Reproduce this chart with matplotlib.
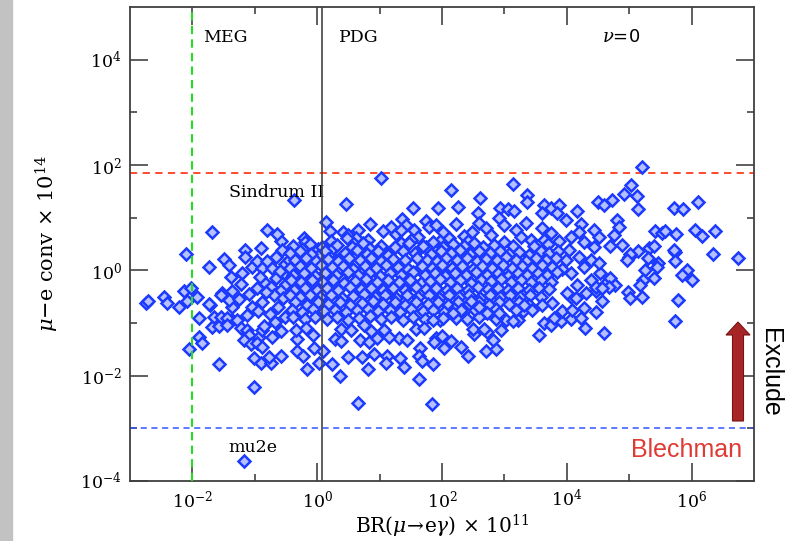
import numpy as np
import matplotlib
matplotlib.use("Agg")
import matplotlib.pyplot as plt
from matplotlib.patches import FancyArrow, Rectangle
from matplotlib.ticker import NullFormatter

plt.rcParams['font.family'] = 'DejaVu Serif'
plt.rcParams['mathtext.fontset'] = 'dejavuserif'

# scan points, as (log10 BR x 1e11, log10 conv x 1e14)
far_left = [(-2.74, -0.62), (-2.71, -0.58), (-2.45, -0.50), (-2.40, -0.62), (-2.21, -0.69),
            (-2.13, -0.40), (-2.09, -0.58), (-2.02, -0.34), (-1.92, -0.50), (-1.89, -0.91),
            (-1.72, -0.66), (-1.69, -1.07), (-1.57, -1.06), (-2.05, -1.50), (-2.10, 0.31),
            (-1.68, 0.73), (-1.89, -1.26), (-1.84, -1.38), (-1.65, -0.88), (-1.57, -1.78),
            (-1.74, 0.06)]

left_mid = [(-1.50, 0.22), (-1.41, 0.10), (-1.20, -0.06), (-1.38, -0.12), (-1.04, 0.07),
            (-0.88, 0.04), (-0.72, 0.04), (-0.53, -0.06), (-1.22, -0.26), (-1.52, -0.43),
            (-1.36, -0.40), (-1.73, -0.64), (-1.54, -0.47), (-1.36, -0.69), (-1.04, -0.69),
            (-1.41, -0.56), (-1.36, -0.94), (-1.54, -0.88), (-1.44, -0.91), (-1.44, -1.04),
            (-1.28, -0.94), (-1.22, -1.10), (-1.12, -1.13), (-1.09, -1.23), (-1.17, -1.32),
            (-1.06, -1.40), (-0.93, -1.26), (-0.96, -1.38), (-0.88, -1.45), (-0.88, -1.13),
            (-1.01, -1.66), (-0.90, -1.75), (-0.74, -1.76), (-0.77, -1.64), (-0.58, -1.62),
            (-0.72, -1.26), (-0.58, -1.16), (-1.01, -2.21), (-1.17, -3.62), (-0.96, 0.17),
            (-0.58, 0.55), (-0.80, 0.77), (-0.64, 0.69), (-0.90, 0.43), (-0.56, 0.38),
            (-1.15, 0.38), (-1.15, 0.25), (-0.85, -0.22), (-0.74, -0.31), (-0.66, -0.14),
            (-0.58, -0.37), (-0.50, -0.26), (-0.70, -0.47), (-0.55, -0.52), (-0.82, -0.42),
            (-0.92, -0.12), (-0.97, -0.33), (-1.10, -0.45), (-0.88, -0.60), (-0.63, -0.70),
            (-0.75, -0.83), (-0.52, -0.88), (-0.95, -0.78), (-1.12, -0.85), (-0.68, -0.98),
            (-0.86, -1.05), (-1.25, -0.55), (-0.80, 0.18), (-0.66, 0.26), (-0.52, 0.12),
            (-0.60, -0.02), (-0.45, 0.20), (-0.42, 0.01)]

high_pts = [(-0.37, 1.34), (0.46, 1.26), (1.02, 1.75), (5.20, 1.97), (1.54, 1.18), (1.94, 1.18),
            (2.14, 1.53), (3.13, 1.64), (2.61, 1.37), (3.36, 1.43), (3.36, 1.30), (2.26, 1.20),
            (2.93, 1.18), (3.05, 1.16), (3.15, 1.13), (3.63, 1.24), (3.61, 1.08), (3.74, 1.18),
            (3.87, 1.24), (3.85, 1.08), (4.16, 1.12), (3.98, 0.96), (4.22, 0.88)]

core_upper = [(0.14, 0.91), (0.20, 0.75), (-0.21, 0.61), (-0.19, 0.53), (-0.24, 0.40), (0.01, 0.40),
              (0.03, 0.29), (0.42, 0.72), (0.50, 0.67), (0.65, 0.77), (0.62, 0.61), (0.85, 0.88),
              (0.82, 0.58), (0.83, 0.42), (0.54, 0.39), (0.57, 0.51), (1.06, 0.75), (1.18, 0.83),
              (1.26, 0.69), (1.36, 0.97), (1.42, 0.86), (1.34, 0.77), (1.55, 0.77), (1.61, 0.63),
              (1.74, 0.94), (1.79, 0.83), (1.90, 0.86), (1.98, 0.58), (1.50, 0.58), (1.34, 0.51),
              (1.23, 0.42), (1.15, 0.33), (1.74, 0.45), (1.90, 0.39), (0.22, 0.55), (0.25, 0.42),
              (0.38, 0.26), (0.30, 0.20), (0.48, 0.61),
              (2.57, 1.08), (2.59, 0.89), (2.48, 0.73), (2.23, 0.88), (2.11, 0.61), (2.91, 0.99),
              (2.99, 0.86), (2.70, 0.80), (2.78, 0.67), (3.18, 0.77), (3.34, 0.89), (3.26, 0.63),
              (3.42, 0.58), (3.61, 0.80), (3.74, 0.70), (3.63, 0.58), (3.87, 0.55), (4.06, 0.64),
              (4.19, 0.73), (4.27, 0.54), (4.44, 0.77), (4.43, 0.45), (4.03, 0.39), (4.19, 0.26),
              (3.98, 0.20), (4.38, 0.20), (4.27, 0.07), (4.06, -0.06), (4.16, -0.28), (4.38, -0.18),
              (4.46, -0.40), (4.06, -0.50), (4.27, -0.72), (2.02, 0.72), (2.36, 0.66), (2.42, 0.55)]

core_dense = [
    (-0.38, 0.46), (-0.12, 0.50), (0.08, 0.44), (0.31, 0.49), (0.55, 0.45), (0.74, 0.51), (1.02, 0.47),
    (1.25, 0.44), (1.47, 0.52), (1.70, 0.47), (1.86, 0.53), (2.02, 0.45), (2.18, 0.50), (2.35, 0.46),
    (2.52, 0.52), (2.66, 0.45), (2.84, 0.49), (3.00, 0.53), (3.13, 0.46), (3.48, 0.47), (3.70, 0.50),
    (-0.44, 0.33), (-0.28, 0.37), (-0.10, 0.31), (0.12, 0.36), (0.44, 0.33), (0.63, 0.38), (0.80, 0.31),
    (0.97, 0.36), (1.14, 0.30), (1.38, 0.37), (1.56, 0.33), (1.82, 0.31), (1.98, 0.37), (2.14, 0.33),
    (2.29, 0.38), (2.45, 0.31), (2.60, 0.36), (2.77, 0.32), (2.93, 0.37), (3.08, 0.31), (3.24, 0.35),
    (3.40, 0.30), (3.58, 0.37), (3.72, 0.32), (3.86, 0.36),
    (-0.36, 0.19), (-0.18, 0.24), (-0.02, 0.18), (0.17, 0.22), (0.33, 0.17), (0.51, 0.23), (0.68, 0.19),
    (0.87, 0.24), (1.03, 0.18), (1.21, 0.22), (1.40, 0.19), (1.60, 0.24), (1.76, 0.20), (1.92, 0.17),
    (2.07, 0.23), (2.24, 0.19), (2.40, 0.24), (2.56, 0.18), (2.71, 0.22), (2.88, 0.19), (3.03, 0.25),
    (3.19, 0.20), (3.35, 0.17), (3.51, 0.23), (3.66, 0.19), (3.82, 0.24),
    (-0.43, 0.05), (-0.27, 0.09), (-0.10, 0.04), (0.06, 0.10), (0.24, 0.06), (0.42, 0.09), (0.58, 0.03),
    (0.77, 0.08), (0.94, 0.05), (1.10, 0.10), (1.29, 0.06), (1.46, 0.03), (1.68, 0.08), (1.84, 0.04),
    (2.00, 0.10), (2.16, 0.05), (2.32, 0.08), (2.49, 0.03), (2.64, 0.09), (2.80, 0.05), (2.97, 0.10),
    (3.12, 0.04), (3.28, 0.08), (3.44, 0.05), (3.60, 0.10), (3.77, 0.06), (3.92, 0.02),
    (-0.39, -0.09), (-0.21, -0.05), (-0.04, -0.10), (0.13, -0.06), (0.30, -0.09), (0.49, -0.04),
    (0.66, -0.08), (0.83, -0.05), (1.00, -0.11), (1.17, -0.06), (1.35, -0.09), (1.53, -0.04),
    (1.72, -0.08), (1.89, -0.05), (2.05, -0.10), (2.21, -0.06), (2.38, -0.09), (2.55, -0.04),
    (2.72, -0.08), (2.89, -0.05), (3.05, -0.10), (3.21, -0.06), (3.37, -0.09), (3.54, -0.05),
    (3.69, -0.08), (3.84, -0.04),
    (-0.42, -0.19), (-0.26, -0.23), (-0.08, -0.18), (0.09, -0.22), (0.26, -0.19), (0.43, -0.24),
    (0.61, -0.20), (0.79, -0.17), (0.96, -0.23), (1.13, -0.19), (1.31, -0.22), (1.49, -0.18),
    (1.66, -0.24), (1.81, -0.20), (1.97, -0.17), (2.13, -0.22), (2.29, -0.19), (2.46, -0.24),
    (2.62, -0.18), (2.78, -0.21), (2.95, -0.17), (3.10, -0.23), (3.26, -0.19), (3.42, -0.22),
    (3.58, -0.18), (3.75, -0.22),
    (-0.37, -0.37), (-0.19, -0.33), (-0.01, -0.38), (0.16, -0.34), (0.34, -0.37), (0.52, -0.32),
    (0.70, -0.36), (0.86, -0.33), (1.05, -0.38), (1.22, -0.34), (1.40, -0.37), (1.58, -0.32),
    (1.75, -0.36), (1.91, -0.33), (2.08, -0.38), (2.24, -0.34), (2.41, -0.37), (2.57, -0.32),
    (2.73, -0.36), (2.90, -0.33), (3.06, -0.38), (3.22, -0.34), (3.39, -0.37), (3.55, -0.33),
    (3.71, -0.36),
    (-0.44, -0.47), (-0.28, -0.51), (-0.11, -0.46), (0.05, -0.50), (0.22, -0.47), (0.40, -0.52),
    (0.57, -0.48), (0.75, -0.45), (0.92, -0.50), (1.09, -0.47), (1.27, -0.52), (1.44, -0.46),
    (1.62, -0.50), (1.79, -0.47), (1.95, -0.52), (2.11, -0.46), (2.27, -0.50), (2.44, -0.47),
    (2.61, -0.52), (2.77, -0.46), (2.93, -0.50), (3.09, -0.47), (3.25, -0.51), (3.41, -0.46),
    (3.58, -0.50),
    (-0.35, -0.61), (-0.17, -0.65), (0.01, -0.60), (0.18, -0.64), (0.36, -0.61), (0.53, -0.66),
    (0.71, -0.62), (0.89, -0.59), (1.06, -0.64), (1.24, -0.61), (1.41, -0.66), (1.59, -0.60),
    (1.77, -0.64), (1.93, -0.61), (2.10, -0.66), (2.26, -0.60), (2.43, -0.64), (2.60, -0.61),
    (2.76, -0.65), (2.92, -0.60), (3.08, -0.63), (3.24, -0.60), (3.40, -0.65),
    (-0.41, -0.75), (-0.24, -0.79), (-0.06, -0.74), (0.11, -0.78), (0.28, -0.75), (0.46, -0.80),
    (0.63, -0.76), (0.81, -0.73), (0.98, -0.78), (1.16, -0.75), (1.33, -0.80), (1.51, -0.74),
    (1.69, -0.78), (1.86, -0.75), (2.03, -0.80), (2.19, -0.74), (2.36, -0.78), (2.53, -0.75),
    (2.69, -0.79), (2.86, -0.74), (3.30, -0.78),
    (-0.38, -0.89), (-0.20, -0.93), (-0.03, -0.88), (0.15, -0.92), (0.32, -0.89), (0.50, -0.94),
    (0.67, -0.90), (0.85, -0.87), (1.02, -0.92), (1.19, -0.89), (1.37, -0.94), (1.54, -0.88),
    (1.72, -0.92), (1.96, -0.95), (2.22, -0.90), (2.40, -0.93), (2.60, -0.89)]

core_lower = [(-0.16, -1.87), (0.03, -1.76), (0.24, -1.78), (0.36, -2.00), (0.50, -1.65), (0.72, -1.64),
              (0.91, -1.59), (0.82, -1.87), (1.12, -1.62), (1.10, -1.75), (1.32, -1.67), (1.39, -1.84),
              (1.64, -1.47), (1.63, -1.62), (1.68, -1.72), (1.86, -1.78), (1.63, -2.06), (0.66, -2.52),
              (1.84, -2.54), (-0.33, -1.30), (-0.33, -1.53), (-0.22, -1.63), (-0.05, -1.48), (0.09, -1.53),
              (0.28, -1.30), (0.38, -1.35), (0.69, -1.32), (0.83, -1.37), (0.96, -1.29), (0.38, -1.11),
              (0.54, -1.13), (1.31, -1.28), (1.44, -1.32), (1.90, -1.28), (1.87, -1.36), (1.58, -1.11),
              (1.71, -1.10), (-0.34, -1.13), (-0.18, -1.10), (-0.07, -1.23), (1.07, -1.13), (1.15, -1.26),
              (0.75, -1.04), (0.86, -1.16),
              (4.29, -1.09), (3.55, -1.23), (3.63, -1.00), (3.74, -1.04), (3.90, -0.97), (4.06, -0.93),
              (4.22, -0.90), (4.46, -0.80), (3.93, -0.78), (4.09, -0.75), (3.21, -0.94), (3.02, -0.94),
              (2.86, -0.93), (2.51, -1.21), (2.72, -1.18), (2.30, -1.45), (2.42, -1.63), (2.71, -1.53),
              (2.86, -1.50), (2.03, -1.47), (2.14, -1.35), (2.50, -1.12), (2.00, -1.25), (4.46, -0.31),
              (4.62, -0.25), (4.30, -0.43), (4.14, -0.53), (4.01, -0.43), (3.77, -0.62), (3.61, -0.66),
              (3.44, -0.75), (3.31, -0.66), (3.18, -0.75), (2.91, -0.81), (2.72, -0.81), (2.59, -0.69),
              (2.46, -0.59), (2.30, -0.75), (2.17, -0.81), (2.01, -0.91), (1.85, -0.94), (2.67, -1.11),
              (2.82, -1.32), (2.94, -1.13), (3.13, -0.97), (3.79, -0.91)]

far_right = [(5.03, 1.62), (4.92, 1.45), (5.13, 1.41), (4.73, 1.34), (4.50, 1.29), (4.59, 1.24),
             (5.14, 1.17), (5.71, 1.19), (5.86, 1.16), (6.10, 1.30), (6.06, 0.77), (6.16, 0.65),
             (6.37, 0.75), (6.75, 0.24), (6.35, 0.31), (5.75, 0.69), (5.42, 0.74), (5.52, 0.71),
             (5.57, 0.75), (5.32, 0.42), (5.39, 0.46), (5.73, 0.34), (5.72, 0.38), (5.74, 0.17),
             (5.30, 0.24), (4.99, 0.26), (4.69, 0.46), (4.80, 0.96), (4.83, 0.83), (4.52, 0.63),
             (5.14, 0.36), (5.02, 0.31), (4.97, 0.20), (5.46, 0.13), (5.45, 0.06), (5.39, -0.15),
             (5.26, 0.01), (5.22, -0.18), (5.17, -0.28), (5.93, 0.01), (5.85, -0.09), (6.00, -0.18),
             (4.70, -0.15), (4.78, -0.28), (4.67, -0.31), (4.56, -0.34), (4.98, -0.42), (5.02, -0.53),
             (5.20, -0.51), (5.78, -0.56), (4.56, -0.59), (4.54, -0.06), (4.51, 0.13), (4.75, 0.67),
             (4.88, 0.48), (5.73, -0.96), (4.59, -1.19)]

# experimental limits (same units as the axes)
meg_limit = 1e-2
pdg_limit = 1.2
sindrum_limit = 70.0
mu2e_limit = 1e-3

x_ticks = [1e-2, 1e0, 1e2, 1e4, 1e6]
x_tick_labels = [r'$10^{-2}$', r'$10^{0}$', r'$10^{2}$', r'$10^{4}$', r'$10^{6}$']
x_minor = [1e-1, 1e1, 1e3, 1e5]
y_ticks = [1e-4, 1e-2, 1e0, 1e2, 1e4]
y_tick_labels = [r'$10^{-4}$', r'$10^{-2}$', r'$10^{0}$', r'$10^{2}$', r'$10^{4}$']
y_minor = [1e-3, 1e-1, 1e1, 1e3]

pts = np.array(far_left + left_mid + high_pts + core_upper + core_dense + core_lower + far_right)
br = 10 ** pts[:, 0]
conv = 10 ** pts[:, 1]

fig = plt.figure(figsize=(7.96, 5.41), dpi=100)
fig.patches.append(Rectangle((0, 0), 12 / 796, 1, transform=fig.transFigure,
                             color='#c2c2c2', zorder=0))
ax = fig.add_axes([130 / 796, 1 - 481 / 541, 624 / 796, 474 / 541])

ax.plot(br, conv, 'D', ms=6.0, mec='#1c3aff', mfc='#b4c0ff', mew=1.8, zorder=3)

ax.axhline(sindrum_limit, color='#ff3b1f', ls=(0, (4, 3)), lw=1.3, zorder=2)
ax.axhline(mu2e_limit, color='#3355ff', ls=(0, (4, 3)), lw=1.1, zorder=2)
ax.axvline(meg_limit, color='#22dd22', ls=(0, (4, 2.5)), lw=1.5, zorder=4)
ax.axvline(pdg_limit, color='#444444', lw=1.2, zorder=4)

ax.set_xscale('log')
ax.set_yscale('log')
ax.set_xlim(1e-3, 1e7)
ax.set_ylim(1e-4, 1e5)
ax.set_xticks(x_ticks)
ax.set_xticklabels(x_tick_labels)
ax.set_xticks(x_minor, minor=True)
ax.set_yticks(y_ticks)
ax.set_yticklabels(y_tick_labels)
ax.set_yticks(y_minor, minor=True)
ax.xaxis.set_minor_formatter(NullFormatter())
ax.yaxis.set_minor_formatter(NullFormatter())
ax.tick_params(which='both', direction='in', top=True, right=True, color='#333333',
               width=1.1, labelsize=12.5)
ax.tick_params(which='major', length=13, pad=6)
ax.tick_params(which='minor', length=5)
for s in ax.spines.values():
    s.set_color('#404040')
    s.set_linewidth(1.3)

ax.set_xlabel(r'BR($\mu\!\rightarrow\!$e$\gamma$) $\times$ 10$^{11}$', fontsize=14.5, labelpad=1)
ax.set_ylabel(r'$\mu$$-$e conv $\times$ 10$^{14}$', fontsize=15, labelpad=14)

ax.text(0.015, 10 ** 4.43, 'MEG', fontsize=12.5, va='center', ha='left')
ax.text(2.2, 10 ** 4.43, 'PDG', fontsize=12.5, va='center', ha='left')
ax.text(3.6e4, 10 ** 4.43, r'$\nu$=0', fontsize=13, va='center', ha='left',
        family='DejaVu Sans')
ax.text(0.038, 30, 'Sindrum II', fontsize=12.5, va='center', ha='left')
ax.text(0.038, 4.3e-4, 'mu2e', fontsize=12.5, va='center', ha='left')

fig.text(742 / 796, 1 - 450 / 541, 'Blechman', color='#e03a34', fontsize=18,
         family='Liberation Sans', ha='right', va='center')
fig.text(770 / 796, 1 - 372 / 541, 'Exclude', color='black', fontsize=18,
         family='Liberation Sans', rotation=-90, ha='center', va='center')

fig.patches.append(FancyArrow(738 / 796, 1 - 421 / 541, 0, 99 / 541, width=11 / 796,
                              head_width=24 / 796, head_length=13 / 541,
                              length_includes_head=True, transform=fig.transFigure,
                              facecolor='#a82525', edgecolor='#7a1414', lw=0.8, zorder=5))

fig.savefig('out.png', dpi=100)
